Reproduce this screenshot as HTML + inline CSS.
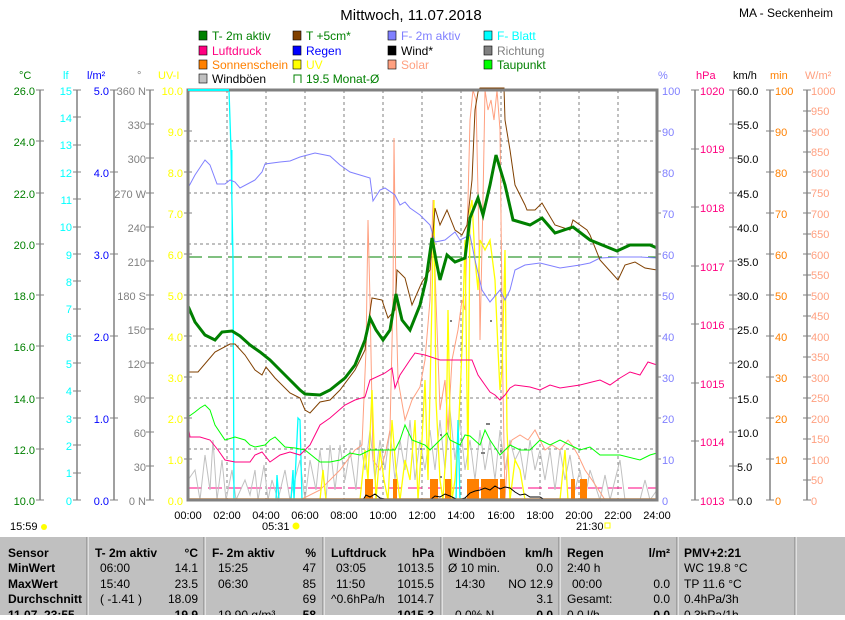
<!DOCTYPE html>
<html><head><meta charset="utf-8"><style>
body{margin:0;background:#fff;width:845px;height:615px;overflow:hidden;font-family:"Liberation Sans",sans-serif}
svg text{font-family:"Liberation Sans",sans-serif}
</style></head><body>
<svg width="845" height="615" viewBox="0 0 845 615" xmlns="http://www.w3.org/2000/svg">
<rect width="845" height="615" fill="#fff"/>
<text x="411" y="20" font-size="15" text-anchor="middle">Mittwoch, 11.07.2018</text>
<text x="833" y="17" font-size="12" text-anchor="end">MA - Seckenheim</text>
<!-- legend -->
<g font-size="12">
<rect x="199" y="31" width="8" height="9" fill="#008000" stroke="#000" stroke-width="0.6"/><text x="212" y="40" fill="#008000">T- 2m aktiv</text>
<rect x="293" y="31" width="8" height="9" fill="#804000" stroke="#000" stroke-width="0.6"/><text x="306" y="40" fill="#008000">T +5cm*</text>
<rect x="388" y="31" width="8" height="9" fill="#8080ff" stroke="#000" stroke-width="0.6"/><text x="401" y="40" fill="#8080ff">F- 2m aktiv</text>
<rect x="484" y="31" width="8" height="9" fill="#00ffff" stroke="#000" stroke-width="0.6"/><text x="497" y="40" fill="#00ffff">F- Blatt</text>
<rect x="199" y="46" width="8" height="9" fill="#ff0080" stroke="#000" stroke-width="0.6"/><text x="212" y="55" fill="#ff0080">Luftdruck</text>
<rect x="293" y="46" width="8" height="9" fill="#0000ff" stroke="#000" stroke-width="0.6"/><text x="306" y="55" fill="#0000ff">Regen</text>
<rect x="388" y="46" width="8" height="9" fill="#000" stroke="#000" stroke-width="0.6"/><text x="401" y="55" fill="#000">Wind*</text>
<rect x="484" y="46" width="8" height="9" fill="#808080" stroke="#000" stroke-width="0.6"/><text x="497" y="55" fill="#808080">Richtung</text>
<rect x="199" y="60" width="8" height="9" fill="#ff8000" stroke="#000" stroke-width="0.6"/><text x="212" y="69" fill="#ff8000">Sonnenschein</text>
<rect x="293" y="60" width="8" height="9" fill="#ffff00" stroke="#000" stroke-width="0.6"/><text x="306" y="69" fill="#ffff00">UV</text>
<rect x="388" y="60" width="8" height="9" fill="#ffa080" stroke="#000" stroke-width="0.6"/><text x="401" y="69" fill="#ffa080">Solar</text>
<rect x="484" y="60" width="8" height="9" fill="#00ff00" stroke="#000" stroke-width="0.6"/><text x="497" y="69" fill="#008000">Taupunkt</text>
<rect x="199" y="74" width="8" height="9" fill="#c0c0c0" stroke="#000" stroke-width="0.6"/><text x="212" y="83" fill="#000">Windböen</text>
<path d="M294 83 V75 H301 V83" fill="none" stroke="#008000"/><text x="306" y="83" fill="#008000">19.5 Monat-Ø</text>
</g>
<!-- unit headers -->
<g font-size="11">
<text x="19" y="79" fill="#008000">°C</text>
<text x="63" y="79" fill="#00ffff">lf</text>
<text x="87" y="79" fill="#0000ff">l/m²</text>
<text x="137" y="79" fill="#808080">°</text>
<text x="158" y="79" fill="#ffff00">UV-I</text>
<text x="658" y="79" fill="#8080ff">%</text>
<text x="696" y="79" fill="#ff0080">hPa</text>
<text x="733" y="79" fill="#000">km/h</text>
<text x="770" y="79" fill="#ff8000">min</text>
<text x="805" y="79" fill="#ffa080">W/m²</text>
</g>
<!-- axis lines -->
<g stroke="#808080" stroke-width="1.5">
<line x1="40" y1="90" x2="40" y2="500"/><line x1="77" y1="90" x2="77" y2="500"/><line x1="114" y1="90" x2="114" y2="500"/><line x1="150" y1="90" x2="150" y2="500"/>
<line x1="695" y1="90" x2="695" y2="500"/><line x1="733" y1="90" x2="733" y2="500"/><line x1="770" y1="90" x2="770" y2="500"/><line x1="807" y1="90" x2="807" y2="500"/>
</g>
<!-- ticks -->
<g stroke="#808080" stroke-width="1" fill="none">
<path d="M36 90h8M36 141h8M36 193h8M36 244h8M36 295h8M36 346h8M36 398h8M36 449h8M36 500h8"/>
<path d="M73 90h8M73 117h8M73 145h8M73 172h8M73 199h8M73 227h8M73 254h8M73 281h8M73 309h8M73 336h8M73 363h8M73 391h8M73 418h8M73 445h8M73 473h8M73 500h8"/>
<path d="M110 90h8M110 172h8M110 254h8M110 336h8M110 418h8M110 500h8"/>
<path d="M146 90h8M146 124h8M146 158h8M146 193h8M146 227h8M146 261h8M146 295h8M146 329h8M146 363h8M146 398h8M146 432h8M146 466h8M146 500h8"/>
<path d="M184 131h8M184 172h8M184 213h8M184 254h8M184 295h8M184 336h8M184 377h8M184 418h8M184 459h8"/>
<path d="M657 131h4M657 172h4M657 213h4M657 254h4M657 295h4M657 336h4M657 377h4M657 418h4M657 459h4"/>
<path d="M691 90h8M691 149h8M691 207h8M691 266h8M691 324h8M691 383h8M691 441h8M691 500h8"/>
<path d="M729 90h8M729 124h8M729 158h8M729 193h8M729 227h8M729 261h8M729 295h8M729 329h8M729 363h8M729 398h8M729 432h8M729 466h8M729 500h8"/>
<path d="M766 90h8M766 131h8M766 172h8M766 213h8M766 254h8M766 295h8M766 336h8M766 377h8M766 418h8M766 459h8M766 500h8"/>
<path d="M803 90h8M803 111h8M803 131h8M803 152h8M803 172h8M803 193h8M803 213h8M803 234h8M803 254h8M803 275h8M803 295h8M803 316h8M803 336h8M803 357h8M803 377h8M803 398h8M803 418h8M803 439h8M803 459h8M803 480h8M803 500h8"/>
</g>
<g font-size="11" text-anchor="end">
<g fill="#008000"><text x="35" y="95">26.0</text><text x="35" y="146">24.0</text><text x="35" y="198">22.0</text><text x="35" y="249">20.0</text><text x="35" y="300">18.0</text><text x="35" y="351">16.0</text><text x="35" y="403">14.0</text><text x="35" y="454">12.0</text><text x="35" y="505">10.0</text></g>
<g fill="#00ffff"><text x="72" y="95">15</text><text x="72" y="122">14</text><text x="72" y="149">13</text><text x="72" y="177">12</text><text x="72" y="204">11</text><text x="72" y="231">10</text><text x="72" y="259">9</text><text x="72" y="286">8</text><text x="72" y="313">7</text><text x="72" y="341">6</text><text x="72" y="368">5</text><text x="72" y="395">4</text><text x="72" y="423">3</text><text x="72" y="450">2</text><text x="72" y="477">1</text><text x="72" y="505">0</text></g>
<g fill="#0000ff"><text x="109" y="95">5.0</text><text x="109" y="177">4.0</text><text x="109" y="259">3.0</text><text x="109" y="341">2.0</text><text x="109" y="423">1.0</text><text x="109" y="505">0.0</text></g>
<g fill="#808080"><text x="146" y="95">360 N</text><text x="146" y="129">330</text><text x="146" y="163">300</text><text x="146" y="198">270 W</text><text x="146" y="232">240</text><text x="146" y="266">210</text><text x="146" y="300">180 S</text><text x="146" y="334">150</text><text x="146" y="368">120</text><text x="146" y="403">90</text><text x="146" y="437">60</text><text x="146" y="471">30</text><text x="146" y="505">0 N</text></g>
<g fill="#ffff00"><text x="183" y="95">10.0</text><text x="183" y="136">9.0</text><text x="183" y="177">8.0</text><text x="183" y="218">7.0</text><text x="183" y="259">6.0</text><text x="183" y="300">5.0</text><text x="183" y="341">4.0</text><text x="183" y="382">3.0</text><text x="183" y="423">2.0</text><text x="183" y="464">1.0</text><text x="183" y="505">0.0</text></g>
</g>
<g font-size="11">
<g fill="#8080ff"><text x="662" y="95">100</text><text x="662" y="136">90</text><text x="662" y="177">80</text><text x="662" y="218">70</text><text x="662" y="259">60</text><text x="662" y="300">50</text><text x="662" y="341">40</text><text x="662" y="382">30</text><text x="662" y="423">20</text><text x="662" y="464">10</text><text x="662" y="505">0</text></g>
<g fill="#ff0080"><text x="700" y="95">1020</text><text x="700" y="153">1019</text><text x="700" y="212">1018</text><text x="700" y="271">1017</text><text x="700" y="329">1016</text><text x="700" y="388">1015</text><text x="700" y="446">1014</text><text x="700" y="505">1013</text></g>
<g fill="#000"><text x="737" y="95">60.0</text><text x="737" y="129">55.0</text><text x="737" y="163">50.0</text><text x="737" y="198">45.0</text><text x="737" y="232">40.0</text><text x="737" y="266">35.0</text><text x="737" y="300">30.0</text><text x="737" y="334">25.0</text><text x="737" y="368">20.0</text><text x="737" y="403">15.0</text><text x="737" y="437">10.0</text><text x="737" y="471">5.0</text><text x="737" y="505">0.0</text></g>
<g fill="#ff8000"><text x="775" y="95">100</text><text x="775" y="136">90</text><text x="775" y="177">80</text><text x="775" y="218">70</text><text x="775" y="259">60</text><text x="775" y="300">50</text><text x="775" y="341">40</text><text x="775" y="382">30</text><text x="775" y="423">20</text><text x="775" y="464">10</text><text x="775" y="505">0</text></g>
<g fill="#ffa080"><text x="811" y="95">1000</text><text x="811" y="115">950</text><text x="811" y="136">900</text><text x="811" y="156">850</text><text x="811" y="177">800</text><text x="811" y="197">750</text><text x="811" y="218">700</text><text x="811" y="238">650</text><text x="811" y="259">600</text><text x="811" y="279">550</text><text x="811" y="300">500</text><text x="811" y="320">450</text><text x="811" y="341">400</text><text x="811" y="361">350</text><text x="811" y="382">300</text><text x="811" y="402">250</text><text x="811" y="423">200</text><text x="811" y="443">150</text><text x="811" y="464">100</text><text x="811" y="484">50</text><text x="811" y="505">0</text></g>
</g>
<!-- grid -->
<g stroke="#808080" stroke-dasharray="3,3" stroke-width="1">
<line x1="188" y1="141" x2="657" y2="141"/><line x1="188" y1="193" x2="657" y2="193"/><line x1="188" y1="244" x2="657" y2="244"/><line x1="188" y1="295" x2="657" y2="295"/><line x1="188" y1="346" x2="657" y2="346"/><line x1="188" y1="398" x2="657" y2="398"/><line x1="188" y1="449" x2="657" y2="449"/>
<line x1="227" y1="90" x2="227" y2="500"/><line x1="266" y1="90" x2="266" y2="500"/><line x1="305" y1="90" x2="305" y2="500"/><line x1="344" y1="90" x2="344" y2="500"/><line x1="383" y1="90" x2="383" y2="500"/><line x1="422" y1="90" x2="422" y2="500"/><line x1="461" y1="90" x2="461" y2="500"/><line x1="501" y1="90" x2="501" y2="500"/><line x1="540" y1="90" x2="540" y2="500"/><line x1="579" y1="90" x2="579" y2="500"/><line x1="618" y1="90" x2="618" y2="500"/>
</g>
<line x1="188" y1="257" x2="657" y2="257" stroke="#008000" stroke-dasharray="14,6"/>
<line x1="188" y1="488" x2="657" y2="488" stroke="#ff0080" stroke-dasharray="14,6"/>
<!-- windboeen -->
<polyline fill="none" stroke="#c0c0c0" points="188,480 195,470 200,500 205,455 210,490 213,440 217,500 222,460 226,500 232,470 236,500 245,480 250,495 255,470 258,500 264,465 268,500 272,480 278,500 285,470 290,500 296,475 300,460 305,500 310,460 316,490 320,450 326,500 330,445 335,490 340,445 345,480 350,450 356,490 360,440 365,470 370,430 375,480 380,440 385,470 390,430 395,480 400,440 405,470 410,420 415,480 420,440 425,470 430,430 435,470 440,420 445,470 450,410 455,460 460,420 465,470 470,440 475,480 480,430 485,470 490,440 495,480 500,430 505,470 510,440 515,460 520,450 525,480 530,440 535,470 540,450 545,480 550,450 555,490 560,450 565,480 570,455 575,490 580,470 585,500 590,470 600,500 605,475 610,500 620,460 625,500 640,500 645,480 650,500 657,490"/>
<!-- solar -->
<polyline fill="none" stroke="#ffa080" points="188,500 300,500 320,490 340,470 355,450 362,445 366,350 368,220 370,300 373,460 380,470 385,455 390,430 393,300 394,138 396,300 398,380 405,420 412,400 420,387 425,360 430,300 433,200 436,300 440,410 445,380 448,430 452,360 458,330 462,300 465,310 468,200 470,120 473,90 476,100 479,240 480,340 483,200 485,90 488,110 491,100 494,120 497,90 500,130 503,390 505,500 508,450 512,440 520,435 528,440 535,430 540,440 545,450 552,445 560,450 568,440 572,445 578,455 585,470 592,480 600,492 605,500 657,500"/>
<!-- UV -->
<polyline fill="none" stroke="#ffff00" stroke-width="1.3" points="188,500 320,500 323,470 326,500 360,500 365,450 368,480 372,390 376,500 380,450 384,480 388,500 392,420 396,470 400,500 405,460 410,480 415,420 418,500 422,440 425,380 428,480 432,300 434,200 436,400 440,480 443,500 446,450 448,310 450,420 452,500 455,480 458,440 462,350 465,240 468,470 470,210 472,200 475,260 478,290 480,240 485,250 490,240 495,280 498,350 500,390 502,370 505,250 507,430 510,500 515,460 520,470 525,500 560,500 565,450 568,500"/>
<!-- F-Blatt -->
<polyline fill="none" stroke="#00ffff" stroke-width="1.3" points="188,90 229,90 231,150 233,260 234,500 276,500 277,475 279,500 291,500 293,470 294,500 296,460 298,418 300,420 302,500 456,500 458,420 460,500 657,500"/>
<line x1="232" y1="150" x2="232" y2="245" stroke="#00ffff"/>
<!-- Taupunkt -->
<polyline fill="none" stroke="#00ff00" points="188,417 195,412 200,408 205,405 210,410 215,425 225,440 235,437 245,440 250,445 255,447 265,445 270,440 275,437 285,447 295,448 305,450 315,458 320,462 330,462 340,460 350,453 360,455 370,450 380,450 395,450 400,440 405,425 412,440 425,445 430,450 440,440 447,433 450,440 460,445 465,435 470,436 480,445 485,430 490,440 500,455 510,445 520,450 530,450 540,440 550,445 560,440 570,445 580,450 590,447 600,455 620,455 640,460 650,455 657,453"/>
<!-- Luftdruck -->
<polyline fill="none" stroke="#ff0080" points="188,425 190,437 200,437 210,440 218,450 225,460 235,462 250,462 255,455 262,452 270,462 280,455 290,452 300,455 310,445 320,425 330,418 345,405 355,400 365,397 370,380 385,373 392,368 395,388 400,375 410,360 415,353 425,355 440,360 472,360 478,375 485,385 490,392 495,395 500,400 505,395 510,388 515,385 530,387 540,390 550,385 560,388 580,385 600,380 610,385 620,378 630,372 640,375 648,362 657,365"/>
<!-- F-2m -->
<polyline fill="none" stroke="#8080ff" points="188,188 195,175 205,160 210,165 217,184 225,184 230,180 235,182 240,188 255,180 262,172 265,164 280,162 290,161 300,157 315,153 330,156 340,165 350,172 360,175 370,178 373,201 380,190 385,188 395,195 400,205 405,202 410,208 420,215 430,225 435,242 445,240 455,232 460,240 470,235 475,260 482,290 490,302 500,290 505,300 510,290 515,270 525,265 540,263 560,268 580,265 590,263 600,258 620,257 640,257 657,258"/>
<!-- T+5cm -->
<polyline fill="none" stroke="#804000" points="188,372 198,372 215,352 230,344 235,344 245,355 255,370 262,375 266,367 275,378 290,393 300,398 305,410 310,413 320,402 330,400 340,390 355,370 365,350 368,325 372,298 382,300 388,318 395,310 397,270 405,278 412,305 422,282 430,270 435,208 440,225 447,210 455,230 462,235 467,225 472,180 475,110 478,92 480,88 504,88 505,120 510,150 515,185 525,205 527,210 535,210 542,203 555,225 570,230 573,220 587,230 590,235 600,260 618,280 625,265 635,262 645,268 657,270"/>
<!-- T-2m -->
<polyline fill="none" stroke="#008000" stroke-width="3" points="188,306 195,322 205,335 215,340 222,332 232,331 240,336 250,345 260,352 270,360 280,370 290,380 300,390 305,394 320,395 330,390 345,378 355,365 365,340 370,318 376,330 383,340 390,330 396,294 402,320 410,330 420,305 426,280 432,238 436,260 440,280 447,255 455,262 465,258 470,218 478,198 483,215 490,185 496,155 505,185 513,220 530,225 542,218 555,233 573,227 590,240 617,251 630,245 650,245 657,248"/>
<!-- sunshine bars -->
<g fill="#ff8000">
<rect x="365" y="479" width="8" height="21"/><rect x="393" y="479" width="4" height="21"/><rect x="430" y="479" width="8" height="21"/><rect x="445" y="479" width="6" height="21"/><rect x="467" y="479" width="12" height="21"/><rect x="481" y="479" width="17" height="21"/><rect x="500" y="479" width="5" height="21"/><rect x="571" y="479" width="4" height="21"/><rect x="580" y="479" width="7" height="21"/>
</g>
<line x1="188" y1="499" x2="657" y2="499" stroke="#ff8000" stroke-width="1.5"/>
<!-- wind -->
<polyline fill="none" stroke="#000" points="363,500 366,495 370,497 375,494 380,498 390,500 430,500 435,496 440,497 445,494 450,496 458,500 465,498 470,493 475,491 480,490 485,488 490,490 495,486 500,489 505,487 510,488 515,492 520,495 525,494 530,497 540,497 545,500"/>
<!-- richtung dots -->
<g fill="#808080"><rect x="486" y="423" width="4" height="2"/><rect x="481" y="452" width="4" height="2"/><rect x="440" y="434" width="2" height="2"/><rect x="420" y="448" width="2" height="2"/><rect x="440" y="476" width="2" height="2"/><rect x="500" y="450" width="2" height="2"/><rect x="450" y="320" width="2" height="2"/><rect x="490" y="320" width="2" height="2"/></g>
<!-- plot frame -->
<rect x="188" y="90" width="469" height="410" fill="none" stroke="#808080" stroke-width="3"/>
<line x1="188" y1="90" x2="229" y2="90" stroke="#00ffff" stroke-width="2"/>
<!-- time labels -->
<g font-size="11" text-anchor="middle">
<text x="188" y="519">00:00</text><text x="227" y="519">02:00</text><text x="266" y="519">04:00</text><text x="305" y="519">06:00</text><text x="344" y="519">08:00</text><text x="383" y="519">10:00</text><text x="422" y="519">12:00</text><text x="461" y="519">14:00</text><text x="501" y="519">16:00</text><text x="540" y="519">18:00</text><text x="579" y="519">20:00</text><text x="618" y="519">22:00</text><text x="657" y="519">24:00</text>
</g>
<g font-size="11"><text x="10" y="530">15:59</text><text x="262" y="530">05:31</text><text x="576" y="530">21:30</text></g>
<circle cx="44" cy="527" r="3" fill="#ffff00"/>
<circle cx="296" cy="526" r="3.5" fill="#ffff00"/>
<rect x="605" y="523" width="5" height="5" fill="none" stroke="#ffff00"/>
<!-- table -->
<rect x="0" y="537" width="845" height="78" fill="#c0c0c0"/>
<g stroke="#808080"><line x1="87" y1="537" x2="87" y2="615"/><line x1="204" y1="537" x2="204" y2="615"/><line x1="323" y1="537" x2="323" y2="615"/><line x1="441" y1="537" x2="441" y2="615"/><line x1="559" y1="537" x2="559" y2="615"/><line x1="677" y1="537" x2="677" y2="615"/><line x1="795" y1="537" x2="795" y2="615"/></g>
<g stroke="#fff"><line x1="88" y1="537" x2="88" y2="615"/><line x1="205" y1="537" x2="205" y2="615"/><line x1="324" y1="537" x2="324" y2="615"/><line x1="442" y1="537" x2="442" y2="615"/><line x1="560" y1="537" x2="560" y2="615"/><line x1="678" y1="537" x2="678" y2="615"/><line x1="796" y1="537" x2="796" y2="615"/></g>
<g font-size="12" font-weight="bold"><text x="8" y="557">Sensor</text><text x="8" y="572">MinWert</text><text x="8" y="588">MaxWert</text><text x="8" y="603">Durchschnitt</text><text x="8" y="619">11.07. 23:55</text>
<text x="95" y="557">T- 2m aktiv</text><text x="198" y="557" text-anchor="end">°C</text>
<text x="212" y="557">F- 2m aktiv</text><text x="316" y="557" text-anchor="end">%</text>
<text x="331" y="557">Luftdruck</text><text x="434" y="557" text-anchor="end">hPa</text>
<text x="448" y="557">Windböen</text><text x="553" y="557" text-anchor="end">km/h</text>
<text x="567" y="557">Regen</text><text x="670" y="557" text-anchor="end">l/m²</text>
<text x="684" y="557">PMV+2:21</text>
<text x="198" y="619" text-anchor="end">19.9</text><text x="316" y="619" text-anchor="end">58</text><text x="434" y="619" text-anchor="end">1015.3</text><text x="553" y="619" text-anchor="end">0.0</text><text x="670" y="619" text-anchor="end">0.0</text></g>
<g font-size="12">
<text x="100" y="572">06:00</text><text x="198" y="572" text-anchor="end">14.1</text>
<text x="100" y="588">15:40</text><text x="198" y="588" text-anchor="end">23.5</text>
<text x="100" y="603">( -1.41 )</text><text x="198" y="603" text-anchor="end">18.09</text>
<text x="218" y="572">15:25</text><text x="316" y="572" text-anchor="end">47</text>
<text x="218" y="588">06:30</text><text x="316" y="588" text-anchor="end">85</text>
<text x="316" y="603" text-anchor="end">69</text><text x="218" y="619">19.90 g/m³</text>
<text x="336" y="572">03:05</text><text x="434" y="572" text-anchor="end">1013.5</text>
<text x="336" y="588">11:50</text><text x="434" y="588" text-anchor="end">1015.5</text>
<text x="331" y="603">^0.6hPa/h</text><text x="434" y="603" text-anchor="end">1014.7</text>
<text x="448" y="572">Ø 10 min.</text><text x="553" y="572" text-anchor="end">0.0</text>
<text x="455" y="588">14:30</text><text x="553" y="588" text-anchor="end">NO 12.9</text>
<text x="553" y="603" text-anchor="end">3.1</text><text x="455" y="619">0.0% N</text>
<text x="567" y="572">2:40 h</text>
<text x="572" y="588">00:00</text><text x="670" y="588" text-anchor="end">0.0</text>
<text x="567" y="603">Gesamt:</text><text x="670" y="603" text-anchor="end">0.0</text><text x="567" y="619">0.0 l/h</text>
<text x="684" y="572">WC 19.8 °C</text><text x="684" y="588">TP 11.6 °C</text><text x="684" y="603">0.4hPa/3h</text><text x="684" y="619">0.3hPa/1h</text>
</g>
</svg>
</body></html>
